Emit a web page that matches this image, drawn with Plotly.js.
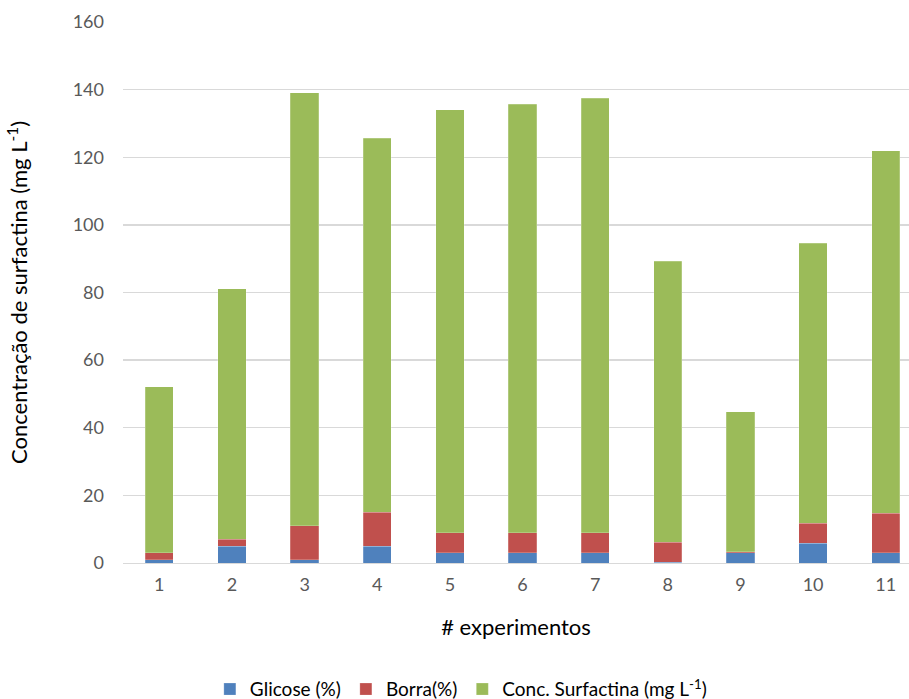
<!DOCTYPE html>
<html>
<head>
<meta charset="utf-8">
<script src="https://cdn.plot.ly/plotly-3.0.1.min.js"></script>
<style>
  html, body { margin: 0; padding: 0; background: #fff; }
  #chart { width: 909px; height: 699px; }
</style>
</head>
<body>
<div id="chart"></div>
<script>
// Experiment numbers along the x axis
const experimentos = ['1', '2', '3', '4', '5', '6', '7', '8', '9', '10', '11'];

// Stacked series (bottom to top)
const glicose = [1, 5, 1, 5, 3, 3, 3, 0.17, 3, 5.83, 3];
const borra = [2, 2, 10, 10, 6, 6, 6, 6, 0.34, 6, 11.66];
const surfactina = [49.1, 74.1, 128.1, 110.6, 125.0, 126.7, 128.4, 83.1, 41.4, 82.8, 107.3];

const yTicks = [0, 20, 40, 60, 80, 100, 120, 140, 160];

const fontFamily = 'Lato, "Open Sans", "Liberation Sans", sans-serif';

function barTrace(name, values, color) {
  return {
    type: 'bar',
    name: name,
    x: experimentos,
    y: values,
    width: 0.39,
    marker: { color: color, line: { color: 'rgba(255,255,255,0.35)', width: 0.6 } },
    hoverinfo: 'x+y+name'
  };
}

const data = [
  barTrace('Glicose (%)', glicose, '#4F81BD'),
  barTrace('Borra(%)', borra, '#C0504D'),
  barTrace('Conc. Surfactina (mg L<sup>-1</sup>)', surfactina, '#9BBB59')
];

const layout = {
  width: 909,
  height: 699,
  margin: { l: 123, r: 0, t: 22, b: 136 },
  paper_bgcolor: '#ffffff',
  plot_bgcolor: '#ffffff',
  barmode: 'stack',
  font: { family: fontFamily, color: '#595959', size: 18 },
  xaxis: {
    type: 'category',
    range: [-0.5, 10.32],
    showgrid: false,
    showline: true,
    linecolor: '#D9D9D9',
    linewidth: 1.3,
    ticks: '',
    ticklabelstandoff: 5,
    tickfont: { size: 18, color: '#595959' },
    title: { text: '# experimentos', font: { size: 22, color: '#000000' }, standoff: 25 },
    automargin: false
  },
  yaxis: {
    range: [0, 160],
    tickvals: yTicks,
    ticktext: yTicks.map(String),
    showgrid: true,
    gridcolor: '#D9D9D9',
    gridwidth: 1.3,
    zeroline: false,
    showline: false,
    ticks: '',
    ticklabelstandoff: 18,
    tickfont: { size: 18, color: '#595959' },
    title: { text: 'Concentração de surfactina (mg L<sup>-1</sup>)', font: { size: 22, color: '#000000' }, standoff: 38 },
    automargin: false
  },
  legend: {
    orientation: 'h',
    xref: 'container',
    yref: 'container',
    x: 0.507,
    xanchor: 'center',
    y: 0.014,
    yanchor: 'middle',
    font: { size: 19, color: '#000000' },
    itemwidth: 30,
    traceorder: 'normal',
    bgcolor: 'rgba(0,0,0,0)'
  },
  showlegend: true
};

Plotly.newPlot('chart', data, layout, { displayModeBar: false, staticPlot: true });
</script>
</body>
</html>
